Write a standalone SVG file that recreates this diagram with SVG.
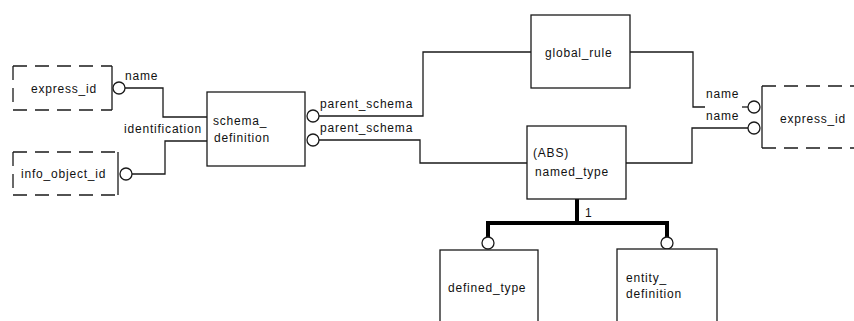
<svg xmlns="http://www.w3.org/2000/svg" width="854" height="321" viewBox="0 0 854 321">
  <style>
    .box { fill: #ffffff; stroke: #1a1a1a; stroke-width: 1.3; }
    .edge { fill: none; stroke: #1a1a1a; stroke-width: 1.3; }
    .dash { fill: none; stroke: #1a1a1a; stroke-width: 1.3; stroke-dasharray: 14 8; }
    .wire { fill: none; stroke: #1a1a1a; stroke-width: 1.3; }
    .thick { fill: none; stroke: #000000; stroke-width: 4; }
    .ring { fill: #ffffff; stroke: #1a1a1a; stroke-width: 1.3; }
    text { font-family: "Liberation Sans", Arial, sans-serif; font-size: 12px; letter-spacing: 0.8px; fill: #111111; }
  </style>

  <rect x="0" y="0" width="854" height="321" fill="#ffffff"/>

  <!-- connectors -->
  <g id="connectors">
    <path class="wire" d="M125 88 H163 V117 H207"/>
    <path class="wire" d="M132 174 H165 V141 H207"/>
    <path class="wire" d="M319 116 H423 V52 H531"/>
    <path class="wire" d="M319 140 H420 V163 H527"/>
    <path class="wire" d="M630 52 H693 V107 H705"/>
    <path class="wire" d="M742 107 H748"/>
    <path class="wire" d="M748 128 H692 V163 H626"/>
    <path class="thick" d="M577 199 V223 M488 223 H667 M488 221 V237 M667 221 V237"/>
    <circle class="ring" cx="119" cy="88" r="6"/>
    <circle class="ring" cx="126" cy="174" r="6"/>
    <circle class="ring" cx="313" cy="116" r="6"/>
    <circle class="ring" cx="313" cy="140" r="6"/>
    <circle class="ring" cx="754" cy="107" r="6"/>
    <circle class="ring" cx="754" cy="128" r="6"/>
    <circle class="ring" cx="488" cy="243" r="6"/>
    <circle class="ring" cx="667" cy="243" r="6"/>
    <text x="125" y="80">name</text>
    <text x="124" y="133">identification</text>
    <text x="320" y="108">parent_schema</text>
    <text x="320" y="132">parent_schema</text>
    <text x="706" y="98">name</text>
    <text x="706" y="120">name</text>
    <text x="585" y="217">1</text>
  </g>

  <!-- express_id (left) -->
  <g id="express_id_left">
    <path class="dash" d="M13 66 H112 M13 110 H112 M13 66 V110"/>
    <path class="edge" d="M112 66 V110"/>
    <text x="31" y="93">express_id</text>
  </g>

  <!-- info_object_id -->
  <g id="info_object_id">
    <path class="dash" d="M13 152 H118 M13 195 H118 M13 152 V195"/>
    <path class="edge" d="M118 152 V195"/>
    <text x="21" y="178">info_object_id</text>
  </g>

  <!-- schema_definition -->
  <g id="schema_definition">
    <rect class="box" x="207" y="92" width="98" height="74"/>
    <text x="213" y="125">schema_</text>
    <text x="214" y="142">definition</text>
  </g>

  <!-- global_rule -->
  <g id="global_rule">
    <rect class="box" x="531" y="15" width="99" height="73"/>
    <text x="545" y="57">global_rule</text>
  </g>

  <!-- named_type -->
  <g id="named_type">
    <rect class="box" x="527" y="126" width="99" height="73"/>
    <text x="533" y="157">(ABS)</text>
    <text x="535" y="176">named_type</text>
  </g>

  <!-- express_id (right) -->
  <g id="express_id_right">
    <path class="dash" d="M762 86 H860 M762 148 H860"/>
    <path class="edge" d="M762 86 V148"/>
    <text x="780" y="123">express_id</text>
  </g>

  <!-- defined_type -->
  <g id="defined_type">
    <rect class="box" x="440" y="250" width="98" height="90"/>
    <text x="448" y="292">defined_type</text>
  </g>

  <!-- entity_definition -->
  <g id="entity_definition">
    <rect class="box" x="617" y="249" width="100" height="90"/>
    <text x="626" y="282">entity_</text>
    <text x="626" y="298">definition</text>
  </g>
</svg>
